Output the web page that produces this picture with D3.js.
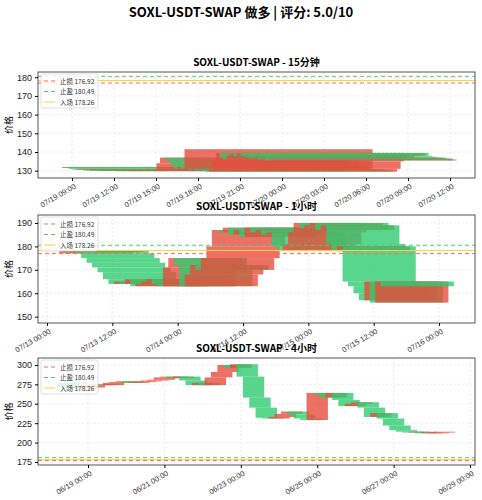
<!DOCTYPE html>
<html>
<head>
<meta charset="utf-8">
<script src="https://cdn.jsdelivr.net/npm/d3@7"></script>
<style>
  body { margin: 0; background: #fff; font-family: "Noto Sans CJK SC", "DejaVu Sans", sans-serif; }
</style>
</head>
<body>
<div id="chart"></div>
<script>
const width = 482;
const height = 500;

// Trade levels
const stopLoss = 176.92;
const takeProfit = 180.49;
const entry = 178.26;

// 15 minute closes, starting 07/19 15:00
const closes15m = [132, 131.5, 131, 130.8, 131, 130.5, 130.6, 130.2, 130.5, 130.4,
  130, 130.3, 130.1, 130.4, 130, 130.2, 130.1, 130.3, 130, 130.2,
  130.4, 130.1, 130.3, 130.2, 130.5, 130.2, 130.4, 134, 137, 136,
  135, 133, 131, 132, 131, 141.5, 130.5, 130.8, 130, 130.4,
  130, 129.5, 131, 135, 139.5, 137, 136, 138, 139, 138,
  139.5, 138, 137.5, 137, 136.5, 137, 136, 136.5, 135.5, 136];
const firstOpen15m = 131.5;
// opens that gap away from the previous close: [index, open]
const gaps15m = [[36, 131]];

// 1 hour closes, starting 07/13 09:00
const closes1h = [178, 177.5, 178, 177, 175, 173, 171, 169, 166, 164,
  165, 164, 166, 163, 164, 165, 166, 164, 163, 171,
  175, 172, 163, 168, 172, 170, 175, 180, 187, 186,
  188, 185, 187, 184, 188, 186, 187, 185, 186, 180,
  178, 181, 186, 190, 188, 189, 190, 187, 189, 181,
  178, 180, 165, 163, 160, 157, 165, 156, 165, 163];
const firstOpen1h = 177;

// 4 hour closes, starting 06/18 12:00
const closes4h = [272, 270, 273, 271, 274, 275, 274, 277, 278, 279,
  277, 278, 279, 280, 281, 284, 285, 283, 285, 280,
  274, 277, 274, 284, 291, 300, 296, 301, 285, 258,
  245, 232, 231, 233, 237, 240, 236, 231, 229, 264,
  262, 258, 264, 255, 247, 250, 252, 245, 233, 238,
  231, 222, 216, 214, 213, 214, 212, 213, 213, 214];
const firstOpen4h = 277;

const panels = [
  { title: "SOXL-USDT-SWAP - 15分钟", closes: closes15m, open0: firstOpen15m, gaps: gaps15m,
    start: Date.UTC(2025, 6, 19, 15), step: 15 * 60e3,
    x0: Date.UTC(2025, 6, 19, 6, 34), x1: Date.UTC(2025, 6, 20, 13, 47),
    ticks: d3.utcHour.every(3), y0: 126.1, y1: 182.8, yTicks: [130, 140, 150, 160, 170, 180],
    top: 72, bottom: 178, titleY: 66 },
  { title: "SOXL-USDT-SWAP - 1小时", closes: closes1h, open0: firstOpen1h, gaps: [],
    start: Date.UTC(2025, 6, 13, 9), step: 3600e3,
    x0: Date.UTC(2025, 6, 12, 22, 21), x1: Date.UTC(2025, 6, 16, 6, 36),
    ticks: d3.utcHour.every(12), y0: 147.3, y1: 193.4, yTicks: [150, 160, 170, 180, 190],
    top: 215, bottom: 323, titleY: 210 },
  { title: "SOXL-USDT-SWAP - 4小时", closes: closes4h, open0: firstOpen4h, gaps: [],
    start: Date.UTC(2025, 5, 18, 12), step: 4 * 3600e3,
    x0: Date.UTC(2025, 5, 17, 16, 35), x1: Date.UTC(2025, 5, 29, 3, 7),
    ticks: d3.utcDay.every(2), y0: 171.1, y1: 309, yTicks: [175, 200, 225, 250, 275, 300],
    top: 358, bottom: 465, titleY: 352 }
];

const left = 38, right = 475;
const barWidth = 0.56 * 86400e3; // candle width in ms
const upColor = "#e74c3c", downColor = "#2ecc71";

const svg = d3.select("#chart").append("svg")
  .attr("width", width).attr("height", height);

svg.append("text")
  .attr("x", width / 2).attr("y", 17)
  .attr("text-anchor", "middle")
  .style("font-size", "13px").style("font-weight", "bold")
  .text("SOXL-USDT-SWAP 做多 | 评分: 5.0/10");

panels.forEach((p, k) => {
  const x = d3.scaleUtc().domain([p.x0, p.x1]).range([left, right]);
  const y = d3.scaleLinear().domain([p.y0, p.y1]).range([p.bottom, p.top]);
  const g = svg.append("g");
  const clipId = "clip" + k;
  g.append("clipPath").attr("id", clipId).append("rect")
    .attr("x", left).attr("y", p.top).attr("width", right - left).attr("height", p.bottom - p.top);

  // grid
  const xt = x.ticks(p.ticks);
  g.selectAll(".gx").data(xt).enter().append("line")
    .attr("x1", d => x(d)).attr("x2", d => x(d)).attr("y1", p.top).attr("y2", p.bottom)
    .attr("stroke", "#ddd").attr("stroke-width", 0.6).attr("stroke-dasharray", "2,2");
  g.selectAll(".gy").data(p.yTicks).enter().append("line")
    .attr("x1", left).attr("x2", right).attr("y1", d => y(d)).attr("y2", d => y(d))
    .attr("stroke", "#ddd").attr("stroke-width", 0.6).attr("stroke-dasharray", "2,2");

  // candles
  const gapMap = new Map(p.gaps);
  const candles = p.closes.map((c, i) => ({
    t: p.start + i * p.step,
    o: gapMap.has(i) ? gapMap.get(i) : (i === 0 ? p.open0 : p.closes[i - 1]),
    c: c
  }));
  g.append("g").attr("clip-path", `url(#${clipId})`)
    .selectAll("rect").data(candles).enter().append("rect")
    .attr("x", d => x(d.t - barWidth / 2))
    .attr("width", d => x(d.t + barWidth / 2) - x(d.t - barWidth / 2))
    .attr("y", d => y(Math.max(d.o, d.c)))
    .attr("height", d => Math.max(0.8, Math.abs(y(d.o) - y(d.c))))
    .attr("fill", d => d.c >= d.o ? upColor : downColor)
    .attr("fill-opacity", 0.8);

  // level lines
  const levels = [
    { v: stopLoss, color: "#ff6b6b", dash: "4,3", label: "止损 176.92" },
    { v: takeProfit, color: "#51cf66", dash: "4,3", label: "止盈 180.49" },
    { v: entry, color: "#ffd43b", dash: null, label: "入场 178.26" }
  ];
  g.append("g").attr("clip-path", `url(#${clipId})`)
    .selectAll("line").data(levels).enter().append("line")
    .attr("x1", left).attr("x2", right)
    .attr("y1", d => y(d.v)).attr("y2", d => y(d.v))
    .attr("stroke", d => d.color).attr("stroke-width", 1)
    .attr("stroke-dasharray", d => d.dash);

  // frame
  g.append("rect").attr("x", left).attr("y", p.top)
    .attr("width", right - left).attr("height", p.bottom - p.top)
    .attr("fill", "none").attr("stroke", "#555").attr("stroke-width", 1);

  // axes
  const xa = g.append("g").attr("transform", `translate(0,${p.bottom})`)
    .call(d3.axisBottom(x).tickValues(xt).tickFormat(d3.utcFormat("%m/%d %H:%M")).tickSize(3));
  xa.select(".domain").remove();
  xa.selectAll("text")
    .attr("text-anchor", "end").attr("dx", "-0.2em").attr("dy", "0.6em")
    .attr("transform", "rotate(-30)")
    .style("font-size", "7.5px").style("fill", "#333");

  const ya = g.append("g").attr("transform", `translate(${left},0)`)
    .call(d3.axisLeft(y).tickValues(p.yTicks).tickSize(3));
  ya.select(".domain").remove();
  ya.selectAll("text").style("font-size", "9px").style("fill", "#222");

  g.append("text")
    .attr("transform", `translate(12,${(p.top + p.bottom) / 2}) rotate(-90)`)
    .attr("text-anchor", "middle")
    .style("font-size", "9px").text("价格");

  g.append("text")
    .attr("x", (left + right) / 2).attr("y", p.titleY)
    .attr("text-anchor", "middle")
    .style("font-size", "10px").style("font-weight", "bold")
    .text(p.title);

  // legend
  const lg = g.append("g").attr("transform", `translate(41,${p.top + 2})`);
  lg.append("rect").attr("width", 57).attr("height", 34).attr("rx", 2)
    .attr("fill", "#fff").attr("fill-opacity", 0.8).attr("stroke", "#ccc").attr("stroke-width", 0.6);
  levels.forEach((d, i) => {
    const yy = 7 + i * 10.5;
    lg.append("line").attr("x1", 3).attr("x2", 14).attr("y1", yy).attr("y2", yy)
      .attr("stroke", d.color).attr("stroke-dasharray", d.dash);
    lg.append("text").attr("x", 19).attr("y", yy + 2.5)
      .style("font-size", "6.5px").style("fill", "#333").text(d.label);
  });
});
</script>
</body>
</html>
